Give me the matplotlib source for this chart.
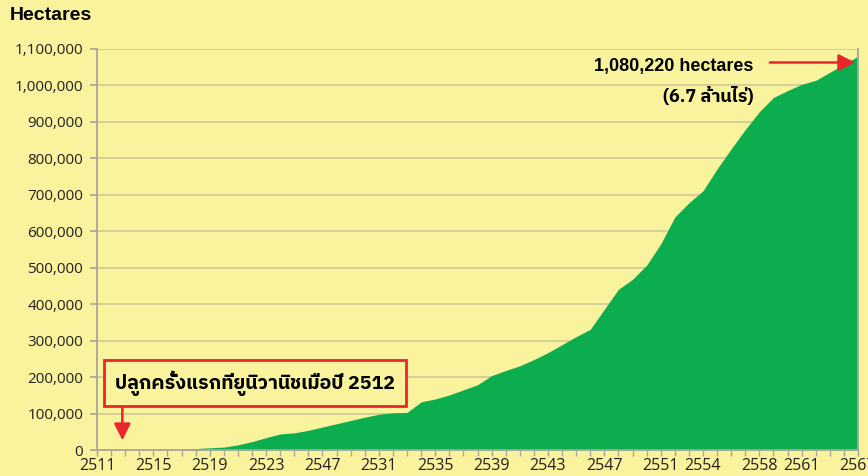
import matplotlib
matplotlib.use('Agg')
import matplotlib.pyplot as plt
from matplotlib import font_manager
from matplotlib.ft2font import FT2Font
from matplotlib.ticker import FuncFormatter, MultipleLocator

# area planted (hectares), x = year slot on the axis (0 = 2511)
pos = [6, 7, 8, 9, 10, 11, 12, 13, 14, 15, 16, 17, 18, 19, 20, 21, 22, 23, 24, 25,
       26, 27, 28, 29, 30, 31, 32, 33, 34, 35, 36, 37, 38, 39, 40, 41, 42, 43, 44,
       45, 46, 47, 48, 49, 50, 51, 52, 53, 54]
hectares = [0, 4000, 6000, 8000, 14000, 23000, 34000, 44000, 47000, 54000, 63000,
            72000, 81000, 90000, 98000, 102000, 103000, 132000, 140000, 151000,
            165000, 179000, 204000, 218000, 231000, 248000, 267000, 289000, 311000,
            331000, 386000, 441000, 468000, 507000, 565000, 639000, 678000, 711000,
            771000, 826000, 879000, 928000, 967000, 986000, 1003000, 1014000,
            1036000, 1058000, 1080220]

tick_pos = [0, 4, 8, 12, 16, 20, 24, 28, 32, 36, 40, 43, 47, 50, 54]
tick_labels = ['2511', '2515', '2519', '2523', '2547', '2531', '2535', '2539',
               '2543', '2547', '2551', '2554', '2558', '2561', '2567']

first_note = 'ปลูกครั้งแรกที่ยูนิวานิชเมื่อปี 2512'
total_note = '1,080,220 hectares'
rai_note = '(6.7 ล้านไร่)'

bg = '#f8f39c'
green = '#0bad4f'
red = '#e8262b'
grey = '#a8a69a'


def find_thai_font():
    found = []
    for f in font_manager.fontManager.ttflist:
        try:
            if ord('ก') in FT2Font(f.fname).get_charmap():
                found.append(f.name)
        except Exception:
            continue
    if not found:
        return 'DejaVu Sans'
    found.sort(key=lambda n: ('Sans' not in n, 'Looped' in n, n))
    return found[0]


thai = [find_thai_font(), 'Liberation Sans']

fig = plt.figure(figsize=(8.68, 4.76), dpi=100, facecolor=bg)
ax = fig.add_axes([97 / 868, 26 / 476, 761 / 868, 401 / 476])
ax.set_facecolor(bg)

ax.fill_between(pos, hectares, 0, color=green, lw=0)

ax.set_xlim(0, 54)
ax.set_ylim(0, 1100000)
ax.set_axisbelow(True)
ax.grid(axis='y', color='#cfc99a', lw=1.2)

ax.yaxis.set_major_locator(MultipleLocator(100000))
ax.yaxis.set_major_formatter(FuncFormatter(lambda v, p: f'{int(v):,}'))
ax.set_xticks(tick_pos)
ax.set_xticklabels(tick_labels)
ax.xaxis.set_minor_locator(MultipleLocator(1))

for lab in ax.get_yticklabels():
    lab.set_fontfamily('Open Sans')
    lab.set_fontsize(11)
    lab.set_color('#231f20')
for lab in ax.get_xticklabels():
    lab.set_fontfamily('Open Sans')
    lab.set_fontsize(11.5)
    lab.set_color('#231f20')

ax.tick_params(axis='y', length=5, width=1.2, color=grey, pad=5)
ax.tick_params(axis='x', which='both', length=4.5, width=1, color=grey, pad=1)

ax.spines['top'].set_visible(False)
for s in ['left', 'right', 'bottom']:
    ax.spines[s].set_color(grey)
    ax.spines[s].set_linewidth(1.3)

fig.text(10 / 868, 1 - 16 / 476, 'Hectares', fontsize=14, fontweight='bold',
         family='Liberation Sans', ha='left', va='center')

# first planting note
ax.text(11.2, 184000, first_note, family=thai, fontsize=14, fontweight='bold',
        ha='center', va='center',
        bbox=dict(boxstyle='square,pad=0.55', fc=bg, ec=red, lw=2))
ax.annotate('', xy=(1.8, 19000), xytext=(1.8, 124000),
            arrowprops=dict(arrowstyle='-|>', color=red, lw=1.8, mutation_scale=25))

# latest total
ax.text(46.55, 1052000, total_note, family='Liberation Sans', fontsize=13,
        fontweight='bold', ha='right', va='center')
ax.text(46.55, 970000, rai_note, family=thai, fontsize=13, fontweight='bold',
        ha='right', va='center')
ax.annotate('', xy=(54, 1063000), xytext=(47.55, 1063000),
            arrowprops=dict(arrowstyle='-|>', color=red, lw=1.8, mutation_scale=25),
            annotation_clip=False)

fig.savefig('out.png', dpi=100, facecolor=bg)
